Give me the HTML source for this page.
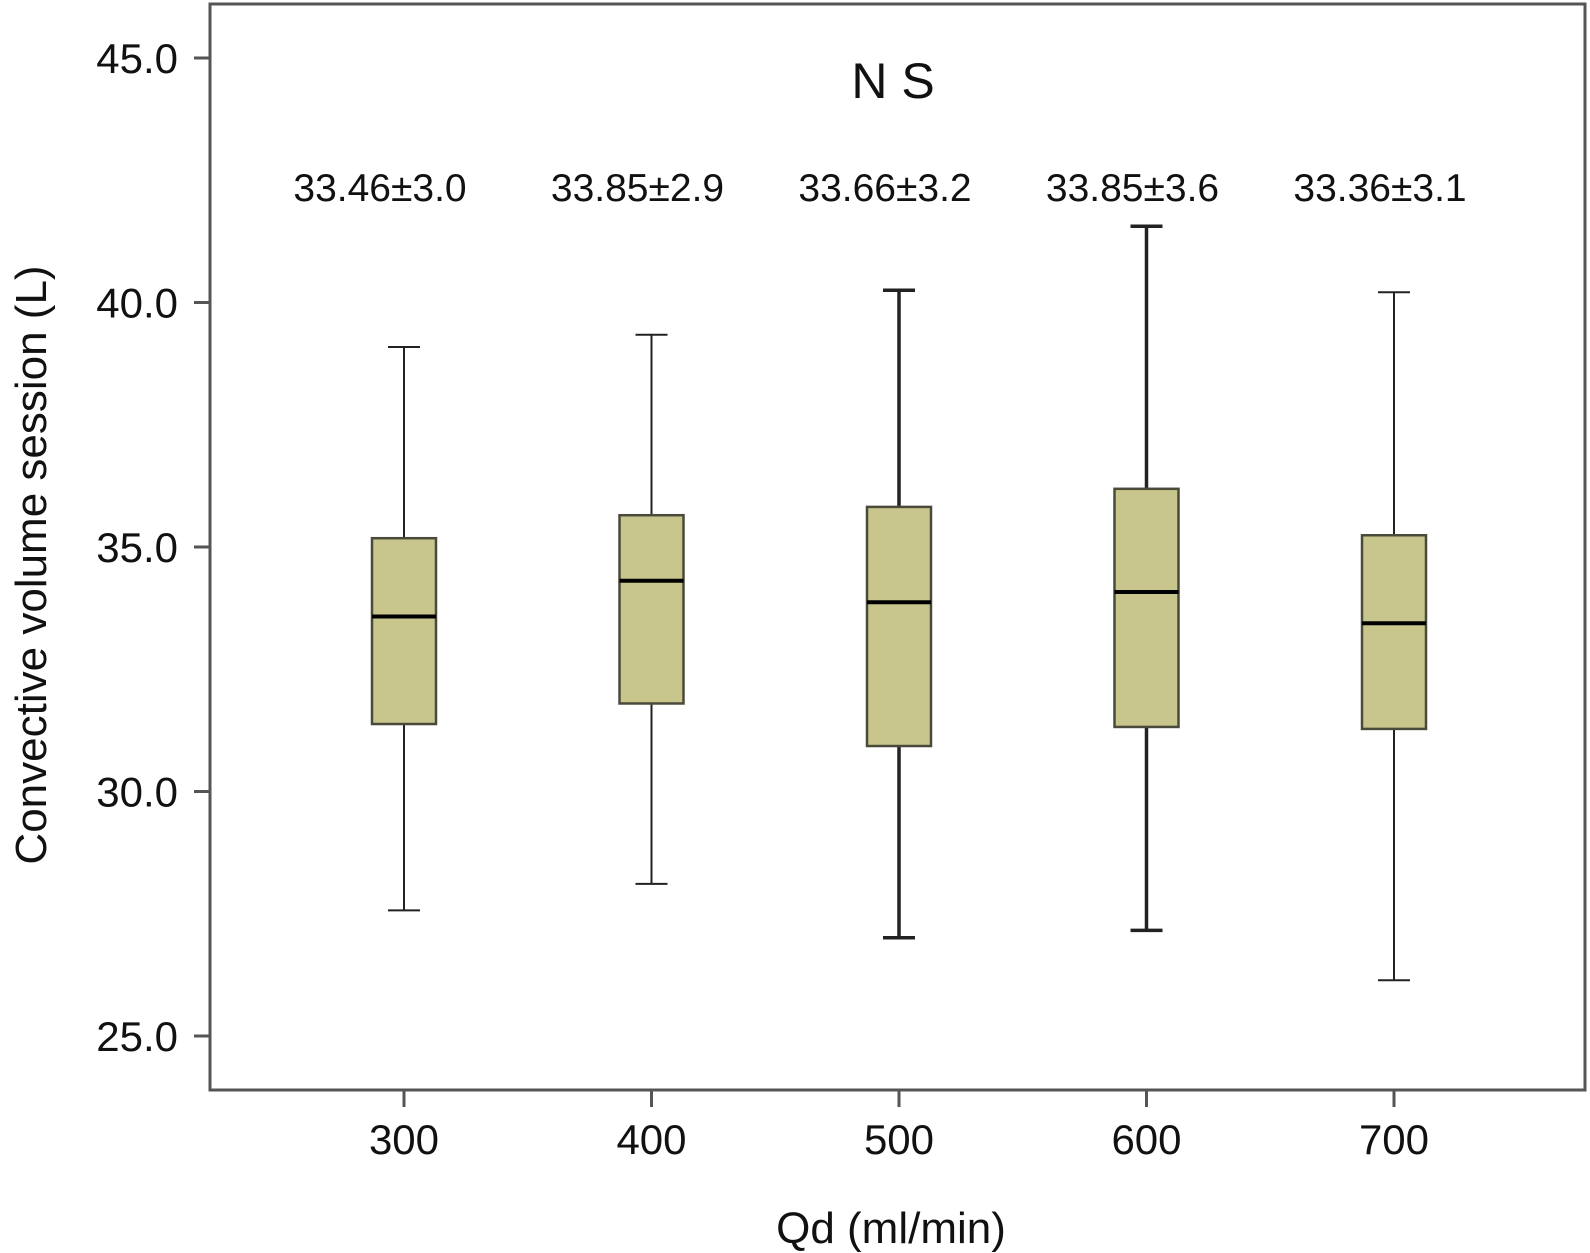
<!DOCTYPE html>
<html><head><meta charset="utf-8"><style>
html,body{margin:0;padding:0;background:#fff;}
svg{display:block;font-family:"Liberation Sans",Arial,sans-serif;}
</style></head><body>
<svg id="chart" width="1590" height="1253" viewBox="0 0 1590 1253">
<rect x="210" y="4" width="1375" height="1086" fill="none" stroke="#555" stroke-width="3"/>
<g id="axes"></g>
<g id="boxes"></g>
<text x="893" y="98" font-size="50" text-anchor="middle" fill="#111">N S</text>
<text x="891" y="1243" font-size="44" text-anchor="middle" fill="#111">Qd (ml/min)</text>
<text transform="translate(46,565) rotate(-90)" font-size="44" text-anchor="middle" fill="#111">Convective volume session (L)</text>
</svg>
<script>
const categories = ["300","400","500","600","700"];
const whiskerLow = [27.57,28.11,27.01,27.16,26.14];
const q1 = [31.38,31.80,30.93,31.32,31.28];
const medians = [33.58,34.31,33.87,34.08,33.44];
const q3 = [35.18,35.65,35.82,36.19,35.24];
const whiskerHigh = [39.09,39.34,40.25,41.56,40.21];
const annotations = ["33.46±3.0","33.85±2.9","33.66±3.2","33.85±3.6","33.36±3.1"];
const yTicks = [25,30,35,40,45];
const yTickLabels = ["25.0","30.0","35.0","40.0","45.0"];

const NS = "http://www.w3.org/2000/svg";
function yScale(v){ return 1036 - (v-25)*(1036-58)/20; }
function xScale(i){ return 404 + i*247.5; }
function mk(tag, attrs, parent){ const e=document.createElementNS(NS,tag); for(const k in attrs) e.setAttribute(k,attrs[k]); parent.appendChild(e); return e; }

const axes=document.getElementById('axes');
yTicks.forEach((t,i)=>{
  const y=yScale(t);
  const tk=mk('line',{x1:194,x2:210,y1:y,y2:y,stroke:'#555','stroke-width':3},axes);
  
  
  const lb=mk('text',{x:178,y:y+15,'font-size':42,'text-anchor':'end',fill:'#111'},axes);
  lb.textContent=yTickLabels[i];
  
  
});
categories.forEach((c,i)=>{
  const x=xScale(i);
  const tk=mk('line',{x1:x,x2:x,y1:1090,y2:1107,stroke:'#555','stroke-width':3},axes);
  
  
  const lb=mk('text',{x:x,y:1154,'font-size':42,'text-anchor':'middle',fill:'#111'},axes);
  lb.textContent=c;
  
  
});

const boxes=document.getElementById('boxes');
categories.forEach((c,i)=>{
  const x=xScale(i), hw=32, sw=(i==2||i==3)?3.5:2;
  const g=mk('g',{},boxes);
  
  
  mk('line',{x1:x,x2:x,y1:yScale(whiskerHigh[i]),y2:yScale(q3[i]),stroke:'#222','stroke-width':sw},g);
  mk('line',{x1:x,x2:x,y1:yScale(q1[i]),y2:yScale(whiskerLow[i]),stroke:'#222','stroke-width':sw},g);
  mk('line',{x1:x-16,x2:x+16,y1:yScale(whiskerHigh[i]),y2:yScale(whiskerHigh[i]),stroke:'#222','stroke-width':sw},g);
  mk('line',{x1:x-16,x2:x+16,y1:yScale(whiskerLow[i]),y2:yScale(whiskerLow[i]),stroke:'#222','stroke-width':sw},g);
  mk('rect',{x:x-hw,y:yScale(q3[i]),width:2*hw,height:yScale(q1[i])-yScale(q3[i]),fill:'#c8c68c',stroke:'#4a4a3a','stroke-width':2.5},g);
  mk('line',{x1:x-hw,x2:x+hw,y1:yScale(medians[i]),y2:yScale(medians[i]),stroke:'#000','stroke-width':4},g);
  const t=mk('text',{x:x-(i==0?24:14),y:201,'font-size':39,'text-anchor':'middle',fill:'#111'},g);
  t.textContent=annotations[i];
  
  
});
</script>
</body></html>
